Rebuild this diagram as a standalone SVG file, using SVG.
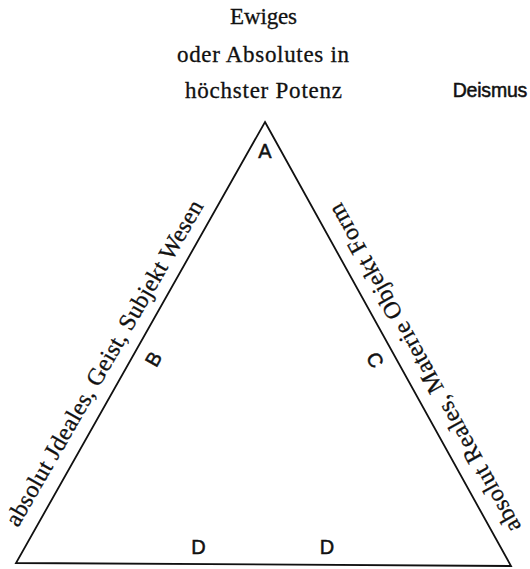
<svg xmlns="http://www.w3.org/2000/svg" width="530" height="569" viewBox="0 0 530 569">
<style>
.serif{font-family:"Liberation Serif","Times New Roman",serif;font-size:23px;fill:#111;stroke:#111;stroke-width:0.3}
.side{font-size:24px}
.sans{font-family:"Liberation Sans",Arial,sans-serif;fill:#111;stroke:#111;stroke-width:0.5}
.lbl{font-size:20px;text-anchor:middle}
.edge{fill:none;stroke:#111;stroke-width:1.8;stroke-linejoin:miter}
</style>
<rect width="530" height="569" fill="#fff"/>
<g id="connectors">
<polygon class="edge" points="265,122 511,566 16,563"/>
</g>
<g id="top-title">
<text class="serif" x="263.5" y="24" text-anchor="middle" textLength="67" lengthAdjust="spacing">Ewiges</text>
<text class="serif" x="263" y="62" text-anchor="middle" textLength="172" lengthAdjust="spacing">oder Absolutes in</text>
<text class="serif" x="263.5" y="98" text-anchor="middle" textLength="157" lengthAdjust="spacing">höchster Potenz</text>
</g>
<g id="deismus">
<text class="sans" x="452.7" y="96.7" font-size="19.5" textLength="74.6" lengthAdjust="spacing">Deismus</text>
</g>
<g id="left-side">
<text class="serif side" transform="translate(18,528) rotate(-60)" x="0" y="0" textLength="372" lengthAdjust="spacing">absolut Jdeales, Geist, Subjekt Wesen</text>
</g>
<g id="right-side">
<text class="serif side" transform="translate(521.4,527.1) rotate(241)" x="0" y="0" textLength="372" lengthAdjust="spacing">absolut Reales, Materie Objekt Form</text>
</g>
<g id="node-A"><text class="sans lbl" x="265" y="158">A</text></g>
<g id="node-B"><text class="sans lbl" transform="translate(153.5,359) rotate(-60.5)" x="0" y="7">B</text></g>
<g id="node-C"><text class="sans lbl" transform="translate(375,360) rotate(61)" x="0" y="7">C</text></g>
<g id="node-D1"><text class="sans lbl" x="198.5" y="554">D</text></g>
<g id="node-D2"><text class="sans lbl" x="327" y="554">D</text></g>
</svg>
